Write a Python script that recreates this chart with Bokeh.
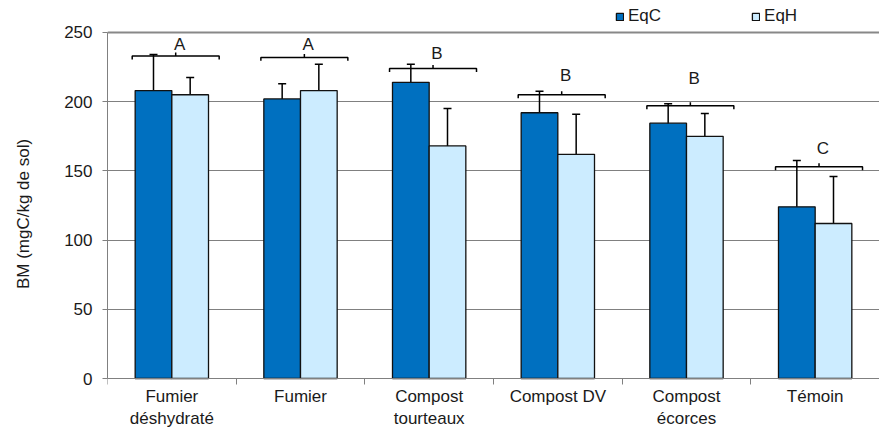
from bokeh.plotting import figure
from bokeh.models import (ColumnDataSource, Range1d, FixedTicker, Whisker, TeeHead,
                          Span, Legend, LegendItem)
from bokeh.core.properties import value
from bokeh.embed import file_html
from bokeh.resources import INLINE

# ---- data ----
categories = ["Fumier\ndéshydraté", "Fumier", "Compost\ntourteaux",
              "Compost DV", "Compost\nécorces", "Témoin"]
eqc = [208, 202, 214, 192, 184.5, 124]
eqc_err = [26, 11, 13, 15.5, 14, 33.5]
eqh = [205, 208, 168, 162, 175, 112]
eqh_err = [12.5, 19, 27, 29, 16.5, 34]
letters = ["A", "A", "B", "B", "B", "C"]
bracket_y = [233, 232, 224, 205, 197, 153]
letter_y = [241, 241, 235, 219, 217, 166]
y_ticks = [0, 50, 100, 150, 200, 250]

FONT = "Liberation Sans"
TXT = "#1a1a1a"
DARK = "#0070C0"
LIGHT = "#CCECFF"

n = len(categories)
centers = [i + 0.5 for i in range(n)]
bw = 0.285
off = bw / 2

# frame spans the full canvas height; the value axis occupies 0..250
p = figure(width=879, height=427, output_backend="svg", toolbar_location=None,
           x_range=Range1d(0, n), y_range=Range1d(-35.4, 273.1),
           min_border_left=107, min_border_right=0, min_border_top=0,
           min_border_bottom=0)
p.outline_line_color = None
p.background_fill_color = "white"
p.border_fill_color = "white"

src = ColumnDataSource(dict(
    xc=[c - off for c in centers], xh=[c + off for c in centers],
    eqc=eqc, eqh=eqh,
    cu=[v + e for v, e in zip(eqc, eqc_err)], cl=[v - e for v, e in zip(eqc, eqc_err)],
    hu=[v + e for v, e in zip(eqh, eqh_err)], hl=[v - e for v, e in zip(eqh, eqh_err)],
))

r1 = p.vbar(x="xc", top="eqc", bottom=0, width=bw, source=src, fill_color=DARK,
            line_color="#111111", line_width=1.3)
r2 = p.vbar(x="xh", top="eqh", bottom=0, width=bw, source=src, fill_color=LIGHT,
            line_color="#111111", line_width=1.3)

for base, up, lo in (("xc", "cu", "cl"), ("xh", "hu", "hl")):
    w = Whisker(source=src, base=base, upper=up, lower=lo, line_color="black",
                line_width=1.5,
                upper_head=TeeHead(size=8, line_color="black", line_width=1.5),
                lower_head=TeeHead(size=8, line_color="black", line_width=1.5))
    p.add_layout(w)

# brackets with letters
bh = 0.338
bshift = 0.03
tk = 2.5
xs, ys = [], []
for c, by in zip(centers, bracket_y):
    cx = c + bshift
    xs.append([cx - bh, cx - bh, cx + bh, cx + bh])
    ys.append([by - tk, by, by, by - tk])
    xs.append([cx, cx])
    ys.append([by, by + tk])
p.multi_line(xs, ys, line_color="black", line_width=1.5)
p.text(x=[c + bshift + 0.03 for c in centers], y=letter_y, text=letters,
       text_font=value(FONT), text_font_size="17px", text_color=TXT,
       text_align="center", text_baseline="middle")

# top border line of the plot area
p.add_layout(Span(location=250, dimension="width", line_color="#888888", line_width=2))

# axes
p.xgrid.grid_line_color = None
p.ygrid.grid_line_color = "#808080"
p.ygrid.grid_line_width = 1

p.yaxis.ticker = FixedTicker(ticks=y_ticks)
p.yaxis.bounds = (0, 250)
p.yaxis.axis_line_color = "#808080"
p.yaxis.major_tick_line_color = "#808080"
p.yaxis.major_tick_out = 5
p.yaxis.major_tick_in = 0
p.yaxis.minor_tick_line_color = None
p.yaxis.major_label_standoff = 10
p.yaxis.major_label_text_font = FONT
p.yaxis.major_label_text_font_size = "17px"
p.yaxis.major_label_text_color = TXT
p.yaxis.axis_label = "BM (mgC/kg de sol)"
p.yaxis.axis_label_text_font = FONT
p.yaxis.axis_label_text_font_size = "17px"
p.yaxis.axis_label_text_font_style = "normal"
p.yaxis.axis_label_text_color = TXT
p.yaxis.axis_label_standoff = 28

p.xaxis.fixed_location = 0
p.xaxis.ticker = FixedTicker(ticks=centers, minor_ticks=list(range(n + 1)))
p.xaxis.major_label_overrides = {c: lab for c, lab in zip(centers, categories)}
p.xaxis.axis_line_color = "#808080"
p.xaxis.major_tick_out = 0
p.xaxis.major_tick_in = 0
p.xaxis.minor_tick_out = 6
p.xaxis.minor_tick_in = 0
p.xaxis.minor_tick_line_color = "#808080"
p.xaxis.major_label_standoff = 2
p.xaxis.major_label_text_font = FONT
p.xaxis.major_label_text_font_size = "17px"
p.xaxis.major_label_text_color = TXT

legend = Legend(items=[LegendItem(label="EqC", renderers=[r1]),
                       LegendItem(label="EqH", renderers=[r2])],
                orientation="horizontal", location=(508, 401),
                glyph_width=9, glyph_height=9, label_height=17,
                label_standoff=4, spacing=90, padding=0, margin=0,
                label_text_font=FONT, label_text_font_size="17px",
                label_text_color=TXT, background_fill_alpha=0,
                border_line_color=None)
p.add_layout(legend)

open("out.html", "w").write(file_html(p, INLINE))
